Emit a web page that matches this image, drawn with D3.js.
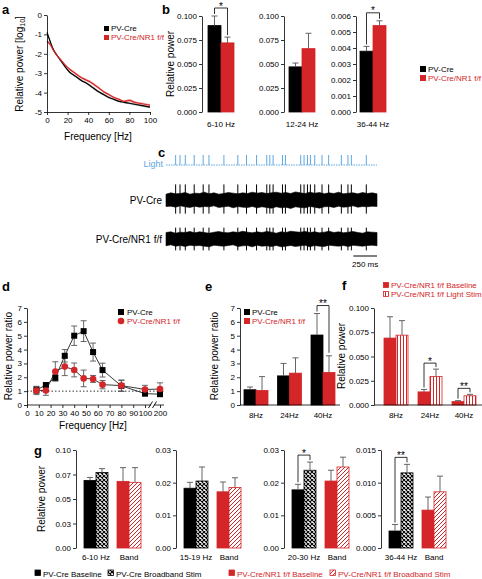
<!DOCTYPE html>
<html>
<head>
<meta charset="utf-8">
<script src="https://cdn.jsdelivr.net/npm/d3@7/dist/d3.min.js"></script>
<style>
html,body{margin:0;padding:0;background:#fff;}
svg{display:block;}
</style>
</head>
<body>
<svg id="fig" width="482" height="579"></svg>
<script>
// ================= DATA =================
// (a) power spectra
const specFreq   = [0,2,4,6,8,10,14,18,22,26,30,34,38,42,46,50,55,60,65,70,75,80,85,90,95,100];
const specPV     = [-0.9,-1.2,-1.5,-1.75,-1.95,-2.1,-2.4,-2.7,-2.95,-3.1,-3.25,-3.4,-3.5,-3.65,-3.8,-3.95,-4.1,-4.25,-4.35,-4.45,-4.5,-4.55,-4.6,-4.65,-4.7,-4.75];
const specNR1    = [-1.35,-1.45,-1.6,-1.8,-1.95,-2.1,-2.35,-2.6,-2.8,-2.95,-3.1,-3.25,-3.35,-3.45,-3.6,-3.75,-3.95,-4.1,-4.25,-4.35,-4.45,-4.4,-4.5,-4.55,-4.6,-4.65];
const specSemPV  = [0.12,0.1,0.08,0.06,0.05,0.05,0.05,0.05,0.05,0.05,0.06,0.06,0.06,0.06,0.06,0.06,0.06,0.06,0.05,0.05,0.05,0.05,0.05,0.05,0.05,0.05];
const specSemNR1 = [0.08,0.07,0.06,0.05,0.05,0.05,0.05,0.05,0.06,0.06,0.06,0.07,0.07,0.07,0.07,0.07,0.06,0.06,0.06,0.06,0.06,0.07,0.07,0.06,0.06,0.06];
const aXTicks = [0,20,40,60,80,100];
const aYTicks = [0,-1,-2,-3,-4,-5];
const genotypes = ["PV-Cre","PV-Cre/NR1 f/f"];

// (b) band power
const bBands  = ["6-10 Hz","12-24 Hz","36-44 Hz"];
const bPV     = [0.090, 0.047, 0.0038];
const bPVErr  = [0.010, 0.004, 0.0003];
const bNR1    = [0.072, 0.066, 0.0054];
const bNR1Err = [0.006, 0.016, 0.0003];
const bTicks  = [[0,0.025,0.05,0.075,0.1],[0,0.025,0.05,0.075,0.1],[0,0.001,0.002,0.003,0.004,0.005,0.006]];
const bSig    = ["*","","*"];

// (c) light pulses (ms) and trace envelopes
const traceDur = 2230;
const scaleBarMs = 250;
const lightPulses = [102,148,204,298,393,454,612,759,851,957,1065,1097,1132,1231,1262,1424,1459,1495,1526,1572,1649,1719,1853,1923,1959,2117];
const pvEnvTop = [0.9,1.1,0.95,1.0,1.15,0.9,1.05,1.0,1.2,0.95,1.1,0.9,1.0,1.15,1.05,0.95,1.1,1.0,1.2,1.05,1.15,1.0,1.1,1.2,1.05,1.15,1.0,1.25,1.1,1.0,1.2,1.05,1.15,0.95,1.1,1.0,1.2,0.95,1.05,1.1,0.95,1.15,1.0,1.1,0.95];
const pvEnvBot = [1.0,0.95,1.1,0.9,1.05,1.15,0.95,1.1,1.0,1.05,0.9,1.15,1.05,0.95,1.2,1.0,1.1,1.15,1.0,1.2,1.05,1.15,1.25,1.05,1.2,1.1,1.3,1.05,1.15,1.2,1.0,1.1,1.25,1.05,1.0,1.15,0.95,1.1,1.05,0.9,1.1,1.0,1.05,0.95,1.0];
const nrEnvTop = [1.0,1.1,0.9,1.05,1.0,1.15,0.95,1.1,1.0,0.9,1.05,1.15,1.0,0.95,1.1,1.0,1.2,1.05,0.95,1.1,1.0,1.15,1.05,0.9,1.1,1.0,1.2,1.1,1.05,1.15,1.0,1.1,0.95,1.05,1.2,1.0,1.1,0.95,1.05,1.15,1.0,0.9,1.1,1.05,1.0];
const nrEnvBot = [1.05,0.9,1.1,1.0,1.15,0.95,1.05,1.0,1.1,1.2,0.95,1.05,1.1,1.0,0.9,1.15,1.05,1.0,1.2,0.95,1.1,1.05,1.15,1.0,1.2,1.1,1.0,1.15,1.05,0.95,1.2,1.0,1.1,1.15,0.95,1.05,1.1,1.0,1.15,0.95,1.05,1.1,1.0,0.95,1.05];
const pvSpike = [2.4, -2.1];
const nrSpike = [1.75, -1.75];

// (d) power ratio vs stimulation frequency
const dFreq   = [8,16,24,32,40,48,56,64,80,100,200];
const dPV     = [1.08,1.44,1.97,3.55,5.0,5.33,3.82,2.52,1.38,0.82,0.78];
const dPVErr  = [0.25,0.15,0.2,0.45,0.7,0.75,0.65,0.5,0.4,0.15,0.1];
const dNR1    = [1.05,1.05,2.42,2.77,2.53,1.92,1.88,1.47,1.4,1.12,1.15];
const dNR1Err = [0.3,0.35,0.7,0.65,0.5,0.6,0.25,0.3,0.4,0.3,0.45];
const dXTicks = [0,10,20,30,40,50,60,70,80,90,100,200];
const dYTicks = [0,1,2,3,4,5,6,7];

// (e)
const eCats   = ["8Hz","24Hz","40Hz"];
const ePV     = [1.1, 2.1, 5.05];
const ePVErr  = [0.2, 0.9, 1.55];
const eNR1    = [1.05, 2.3, 2.35];
const eNR1Err = [1.0, 1.1, 1.2];
const eSig    = ["","","**"];
const eTicks  = [0,1,2,3,4,5,6,7];

// (f)
const fCats    = ["8Hz","24Hz","40Hz"];
const fConds   = ["PV-Cre/NR1 f/f Baseline","PV-Cre/NR1 f/f Light Stim"];
const fBase    = [0.069, 0.0135, 0.0035];
const fBaseErr = [0.022, 0.0025, 0.001];
const fStim    = [0.072, 0.0295, 0.0095];
const fStimErr = [0.015, 0.0075, 0.0015];
const fSig     = ["","*","**"];
const fTicks   = [0,0.025,0.05,0.075,0.1];

// (g)
const gBands     = ["6-10 Hz","15-19 Hz","20-30 Hz","36-44 Hz"];
const gGroupLbl  = "Band";
const gConds     = ["PV-Cre Baseline","PV-Cre Broadband Stim","PV-Cre/NR1 f/f Baseline","PV-Cre/NR1 f/f Broadband Stim"];
const gPVBase    = [0.069, 0.0183, 0.0178, 0.0026];
const gPVBaseErr = [0.003, 0.0018, 0.0017, 0.001];
const gPVStim    = [0.077, 0.0205, 0.0238, 0.0115];
const gPVStimErr = [0.004, 0.0043, 0.0025, 0.0013];
const gNRBase    = [0.068, 0.0172, 0.0205, 0.0058];
const gNRBaseErr = [0.014, 0.003, 0.0033, 0.002];
const gNRStim    = [0.067, 0.0185, 0.0248, 0.0086];
const gNRStimErr = [0.015, 0.003, 0.003, 0.0024];
const gTicks = [[0,0.025,0.05,0.075,0.1],[0,0.01,0.02,0.03],[0,0.01,0.02,0.03],[0,0.005,0.01,0.015]];
const gSig   = ["","","*","**"];

// ================= DRAWING =================
const FONT = '"Liberation Sans", Arial, Helvetica, sans-serif';
const RED = "#d42529", BLUE = "#5ea7e0", ERR = "#555";
const svg = d3.select("#fig").attr("font-family", FONT);

const defs = svg.append("defs");
function pattern(id, w, h, d, color, sw) {
  const p = defs.append("pattern").attr("id", id).attr("patternUnits","userSpaceOnUse").attr("width", w).attr("height", h);
  p.append("rect").attr("width", w).attr("height", h).attr("fill", "#fff");
  p.append("path").attr("d", d).attr("stroke", color).attr("stroke-width", sw).attr("fill","none");
}
pattern("crossHatch", 4, 4, "M0,0L4,4M4,0L0,4", "#000", 1.1);
pattern("redHatch", 4, 4, "M-1,1L1,-1M0,4L4,0M3,5L5,3", RED, 1);
pattern("redVert", 3, 3, "M1.5,0V3", RED, 1);

function styleAxis(ax) {
  ax.attr("font-family", FONT).attr("font-size", 8);
  ax.select(".domain").attr("stroke-width", 0.8);
  ax.selectAll(".tick line").attr("stroke-width", 0.8);
}
function leftAxis(g, y, x, ticks, fmt) {
  const ax = g.append("g").attr("transform", `translate(${x},0)`)
    .call(d3.axisLeft(y).tickValues(ticks).tickFormat(fmt).tickSize(3).tickSizeOuter(0).tickPadding(2));
  styleAxis(ax);
  return ax;
}
function bottomAxis(g, x, y0, ticks, fmt) {
  const ax = g.append("g").attr("transform", `translate(0,${y0})`)
    .call(d3.axisBottom(x).tickValues(ticks).tickFormat(fmt).tickSize(3).tickSizeOuter(0).tickPadding(2));
  styleAxis(ax);
  return ax;
}
function txt(g, x, y, s, o = {}) {
  const t = g.append("text").attr("x", x).attr("y", y).text(s)
    .attr("font-size", o.size || 8).attr("fill", o.fill || "#000")
    .attr("text-anchor", o.anchor || "start");
  if (o.bold) t.attr("font-weight", "bold");
  return t;
}
function vtitle(g, x, y, s) {
  return g.append("text").attr("transform", `translate(${x},${y}) rotate(-90)`)
    .attr("text-anchor", "middle").attr("dy", "0.35em").attr("font-size", 10).text(s);
}
function letter(x, y, s) { txt(svg, x, y, s, {size: 13, bold: true}); }
function barRect(g, x, w, y, v, fill, stroke) {
  g.append("rect").attr("x", x).attr("y", y(v)).attr("width", w).attr("height", y(0) - y(v))
    .attr("fill", fill).attr("stroke", stroke).attr("stroke-width", 0.8);
}
function errUp(g, cx, y, v, e) {
  g.append("path").attr("d", `M${cx},${y(v)}V${y(v + e)}M${cx - 3},${y(v + e)}H${cx + 3}`)
    .attr("stroke", ERR).attr("stroke-width", 0.9).attr("fill", "none");
}
function bracket(g, x1, x2, yLine, yL, yR, label) {
  g.append("path").attr("d", `M${x1},${yL}V${yLine}H${x2}V${yR}`)
    .attr("fill", "none").attr("stroke", "#000").attr("stroke-width", 0.8);
  txt(g, (x1 + x2) / 2, yLine + 1.5, label, {size: 10, anchor: "middle"});
}

// ---------- (a) ----------
{
  const g = svg.append("g");
  letter(2, 14, "a");
  const x = d3.scaleLinear().domain([0, 100]).range([47, 150]);
  const y = d3.scaleLinear().domain([-5, 0]).range([112, 15]);
  const series = [
    {v: specPV, s: specSemPV, line: "#000", band: "#a0a0a0"},
    {v: specNR1, s: specSemNR1, line: RED, band: "#f3a7a1"}
  ];
  series.forEach(se => {
    g.append("path").datum(specFreq.map((f, i) => [f, se.v[i], se.s[i]]))
      .attr("d", d3.area().x(d => x(d[0])).y0(d => y(d[1] - d[2])).y1(d => y(d[1] + d[2])).curve(d3.curveMonotoneX))
      .attr("fill", se.band).attr("opacity", 0.85);
  });
  series.forEach(se => {
    g.append("path").datum(specFreq.map((f, i) => [f, se.v[i]]))
      .attr("d", d3.line().x(d => x(d[0])).y(d => y(d[1])).curve(d3.curveMonotoneX))
      .attr("fill", "none").attr("stroke", se.line).attr("stroke-width", 1.2);
  });
  leftAxis(g, y, 47, aYTicks, d => String(d));
  bottomAxis(g, x, 112, aXTicks, d => String(d));
  const t = g.append("text").attr("transform", `translate(19,64) rotate(-90)`)
    .attr("text-anchor", "middle").attr("dy", "0.35em").attr("font-size", 10);
  t.append("tspan").text("Relative power [log");
  t.append("tspan").attr("font-size", 7).attr("dy", 2).text("10");
  t.append("tspan").attr("dy", -2).text("]");
  txt(g, 98, 140, "Frequency [Hz]", {size: 10, anchor: "middle"});
  genotypes.forEach((gt, k) => {
    g.append("rect").attr("x", 104).attr("y", 26 + k * 9).attr("width", 5).attr("height", 5).attr("fill", k ? RED : "#000");
    txt(g, 111, 31 + k * 9, gt, {fill: k ? RED : "#000"});
  });
}

// ---------- (b) ----------
{
  const g = svg.append("g");
  letter(162, 14, "b");
  const axisX = [202, 284, 356];
  const center = [221, 302, 373];
  vtitle(g, 170, 64, "Relative power");
  bBands.forEach((band, i) => {
    const y = d3.scaleLinear().domain([0, bTicks[i][bTicks[i].length - 1]]).range([112, 16]);
    const xb = d3.scaleBand().domain(genotypes).range([center[i] - 13, center[i] + 13]);
    const vals = [bPV[i], bNR1[i]], errs = [bPVErr[i], bNR1Err[i]];
    genotypes.forEach((gt, k) => {
      barRect(g, xb(gt), xb.bandwidth(), y, vals[k], k ? RED : "#000", k ? RED : "#000");
      errUp(g, xb(gt) + xb.bandwidth() / 2, y, vals[k], errs[k]);
    });
    leftAxis(g, y, axisX[i], bTicks[i], d3.format(".3f"));
    txt(g, center[i], 127, band, {anchor: "middle"});
    if (bSig[i]) {
      const c0 = xb(genotypes[0]) + xb.bandwidth() / 2, c1 = xb(genotypes[1]) + xb.bandwidth() / 2;
      const top = Math.min(y(vals[0] + errs[0]), y(vals[1] + errs[1]));
      bracket(g, c0, c1, top - 8, y(vals[0] + errs[0]) - 2, y(vals[1] + errs[1]) - 2, bSig[i]);
    }
  });
  genotypes.forEach((gt, k) => {
    g.append("rect").attr("x", 420).attr("y", 66 + k * 9).attr("width", 6).attr("height", 6).attr("fill", k ? RED : "#000");
    txt(g, 428, 72 + k * 9, gt, {fill: k ? RED : "#000"});
  });
}

// ---------- (c) ----------
{
  const g = svg.append("g");
  letter(158, 157, "c");
  const x = d3.scaleLinear().domain([0, traceDur]).range([166, 377]);
  // Light
  const ly = d3.scaleLinear().domain([0, 1]).range([165, 155]);
  g.append("line").attr("x1", x(0)).attr("x2", x(traceDur)).attr("y1", ly(0)).attr("y2", ly(0))
    .attr("stroke", BLUE).attr("stroke-width", 1).attr("stroke-dasharray", "1.5,1");
  g.selectAll(null).data(lightPulses).join("line")
    .attr("x1", d => x(d)).attr("x2", d => x(d)).attr("y1", ly(0)).attr("y2", ly(1))
    .attr("stroke", BLUE).attr("stroke-width", 1);
  txt(g, 163, 167, "Light", {fill: BLUE, anchor: "end", size: 9});
  // traces
  const traces = [
    {name: genotypes[0], top: pvEnvTop, bot: pvEnvBot, spike: pvSpike, cy: 200, half: 6.5},
    {name: genotypes[1], top: nrEnvTop, bot: nrEnvBot, spike: nrSpike, cy: 239, half: 6.5}
  ];
  traces.forEach(tr => {
    const y = d3.scaleLinear().domain([-1, 1]).range([tr.cy + tr.half, tr.cy - tr.half]);
    const topPts = tr.top.map((v, i) => [x(i * traceDur / (tr.top.length - 1)), y(v)]);
    const botPts = tr.bot.map((v, i) => [x(i * traceDur / (tr.bot.length - 1)), y(-v)]).reverse();
    g.append("path").attr("d", d3.line()(topPts.concat(botPts)) + "Z")
      .attr("fill", "#000").attr("stroke", "#000").attr("stroke-width", 0.6);
    g.selectAll(null).data(lightPulses).join("line")
      .attr("x1", d => x(d)).attr("x2", d => x(d))
      .attr("y1", y(tr.spike[0])).attr("y2", y(tr.spike[1]))
      .attr("stroke", "#000").attr("stroke-width", 1);
    txt(g, 162, tr.cy + 4, tr.name, {anchor: "end", size: 10});
  });
  g.append("line").attr("x1", x(traceDur - scaleBarMs)).attr("x2", x(traceDur)).attr("y1", 256).attr("y2", 256)
    .attr("stroke", "#000").attr("stroke-width", 1);
  txt(g, (x(traceDur - scaleBarMs) + x(traceDur)) / 2, 267, scaleBarMs + " ms", {anchor: "middle"});
}

// ---------- (d) ----------
{
  const g = svg.append("g");
  letter(2, 291, "d");
  const x = d3.scaleLinear().domain([0, 100, 200]).range([27, 145, 160]);
  const y = d3.scaleLinear().domain([0, 7]).range([405, 308]);
  g.append("line").attr("x1", x(0)).attr("x2", 164).attr("y1", y(1)).attr("y2", y(1))
    .attr("stroke", "#000").attr("stroke-width", 0.8).attr("stroke-dasharray", "1.5,2");
  const sets = [
    {v: dPV, e: dPVErr, color: "#000", shape: "sq"},
    {v: dNR1, e: dNR1Err, color: RED, shape: "ci"}
  ];
  sets.forEach(s => {
    dFreq.forEach((f, i) => {
      const cx = x(f), y1 = y(s.v[i] + s.e[i]), y0 = y(s.v[i] - s.e[i]);
      g.append("path").attr("d", `M${cx},${y0}V${y1}M${cx - 3},${y1}H${cx + 3}M${cx - 3},${y0}H${cx + 3}`)
        .attr("stroke", ERR).attr("stroke-width", 0.9).attr("fill", "none");
    });
  });
  sets.forEach(s => {
    g.append("path").datum(dFreq.map((f, i) => [f, s.v[i]]))
      .attr("d", d3.line().x(d => x(d[0])).y(d => y(d[1])))
      .attr("fill", "none").attr("stroke", "#222").attr("stroke-width", 0.9);
  });
  sets.forEach(s => {
    dFreq.forEach((f, i) => {
      if (s.shape === "sq") g.append("rect").attr("x", x(f) - 3).attr("y", y(s.v[i]) - 3).attr("width", 6).attr("height", 6).attr("fill", s.color);
      else g.append("circle").attr("cx", x(f)).attr("cy", y(s.v[i])).attr("r", 3.3).attr("fill", s.color);
    });
  });
  leftAxis(g, y, 27, dYTicks, d => String(d));
  const bx = bottomAxis(g, x, 405, dXTicks, d => String(d));
  bx.select(".domain").attr("d", `M${x(0)},0H164`);
  // axis break
  g.append("rect").attr("x", 151).attr("y", 402).attr("width", 3).attr("height", 6).attr("fill", "#fff");
  g.append("path").attr("d", "M148.5,408L152.5,401.5M152.5,408L156.5,401.5").attr("stroke", "#000").attr("stroke-width", 0.9);
  vtitle(g, 8, 356, "Relative power ratio");
  txt(g, 93, 429, "Frequency [Hz]", {size: 10, anchor: "middle"});
  g.append("rect").attr("x", 118).attr("y", 309).attr("width", 6).attr("height", 6).attr("fill", "#000");
  txt(g, 127, 315, genotypes[0]);
  g.append("circle").attr("cx", 121).attr("cy", 321).attr("r", 3.3).attr("fill", RED);
  txt(g, 127, 324, genotypes[1], {fill: RED});
}

// ---------- (e) ----------
{
  const g = svg.append("g");
  letter(205, 291, "e");
  const y = d3.scaleLinear().domain([0, 7]).range([405, 308]);
  const xc = d3.scalePoint().domain(eCats).range([256, 323]);
  const xi = d3.scaleBand().domain(genotypes).range([-12, 12]);
  eCats.forEach((c, i) => {
    const vals = [ePV[i], eNR1[i]], errs = [ePVErr[i], eNR1Err[i]];
    genotypes.forEach((gt, k) => {
      const bx = xc(c) + xi(gt);
      barRect(g, bx, xi.bandwidth(), y, vals[k], k ? RED : "#000", k ? RED : "#000");
      errUp(g, bx + xi.bandwidth() / 2, y, vals[k], errs[k]);
    });
    txt(g, xc(c), 418, c, {anchor: "middle"});
    if (eSig[i]) {
      const c0 = xc(c) + xi(genotypes[0]) + xi.bandwidth() / 2, c1 = xc(c) + xi(genotypes[1]) + xi.bandwidth() / 2;
      const t0 = y(vals[0] + errs[0]), t1 = y(vals[1] + errs[1]);
      bracket(g, c0, c1, Math.min(t0, t1) - 8, t0 - 2, t1 - 3, eSig[i]);
    }
  });
  leftAxis(g, y, 240, eTicks, d => String(d));
  g.append("line").attr("x1", 240).attr("x2", 340).attr("y1", 405).attr("y2", 405).attr("stroke", "#000").attr("stroke-width", 0.8);
  vtitle(g, 214, 356, "Relative power ratio");
  genotypes.forEach((gt, k) => {
    g.append("rect").attr("x", 244).attr("y", 309 + k * 9).attr("width", 6).attr("height", 6).attr("fill", k ? RED : "#000");
    txt(g, 252, 315 + k * 9, gt, {fill: k ? RED : "#000"});
  });
}

// ---------- (f) ----------
{
  const g = svg.append("g");
  letter(342, 290, "f");
  const y = d3.scaleLinear().domain([0, 0.1]).range([405, 308]);
  const xc = d3.scalePoint().domain(fCats).range([396, 464]);
  const xi = d3.scaleBand().domain(fConds).range([-12, 12]);
  fCats.forEach((c, i) => {
    const vals = [fBase[i], fStim[i]], errs = [fBaseErr[i], fStimErr[i]];
    fConds.forEach((cd, k) => {
      const bx = xc(c) + xi(cd);
      barRect(g, bx, xi.bandwidth(), y, vals[k], k ? "url(#redVert)" : RED, RED);
      errUp(g, bx + xi.bandwidth() / 2, y, vals[k], errs[k]);
    });
    txt(g, xc(c), 418, c, {anchor: "middle"});
    if (fSig[i]) {
      const c0 = xc(c) + xi(fConds[0]) + xi.bandwidth() / 2, c1 = xc(c) + xi(fConds[1]) + xi.bandwidth() / 2;
      const t0 = y(vals[0] + errs[0]), t1 = y(vals[1] + errs[1]);
      bracket(g, c0, c1, Math.min(t0, t1) - 6, t0 - 2, t1 - 2, fSig[i]);
    }
  });
  leftAxis(g, y, 374, fTicks, d3.format(".3f"));
  g.append("line").attr("x1", 374).attr("x2", 482).attr("y1", 405).attr("y2", 405).attr("stroke", "#000").attr("stroke-width", 0.8);
  vtitle(g, 341, 356, "Relative power");
  fConds.forEach((cd, k) => {
    g.append("rect").attr("x", 383.5).attr("y", 282.5 + k * 9).attr("width", 5).attr("height", 5)
      .attr("fill", k ? "url(#redVert)" : RED).attr("stroke", RED).attr("stroke-width", 0.8);
    txt(g, 391, 288 + k * 9, cd, {fill: RED});
  });
}

// ---------- (g) ----------
{
  const g = svg.append("g");
  letter(34, 455, "g");
  const axisX = [76, 176, 284, 381];
  vtitle(g, 41, 499, "Relative power");
  const fills = ["#000", "url(#crossHatch)", RED, "url(#redHatch)"];
  const strokes = ["#000", "#000", RED, RED];
  gBands.forEach((band, i) => {
    const tk = gTicks[i];
    const y = d3.scaleLinear().domain([0, tk[tk.length - 1]]).range([548, 450]);
    const xc = d3.scalePoint().domain([band, gGroupLbl]).range([axisX[i] + 20, axisX[i] + 53]);
    const xi = d3.scaleBand().domain([0, 1]).range([-12, 12]);
    const vals = [gPVBase[i], gPVStim[i], gNRBase[i], gNRStim[i]];
    const errs = [gPVBaseErr[i], gPVStimErr[i], gNRBaseErr[i], gNRStimErr[i]];
    gConds.forEach((cd, k) => {
      const grp = k < 2 ? band : gGroupLbl;
      const bx = xc(grp) + xi(k % 2);
      barRect(g, bx, xi.bandwidth(), y, vals[k], fills[k], strokes[k]);
      errUp(g, bx + xi.bandwidth() / 2, y, vals[k], errs[k]);
    });
    leftAxis(g, y, axisX[i], tk, d3.format("." + d3.precisionFixed(tk[1]) + "f"));
    txt(g, xc(band), 560, band, {anchor: "middle"});
    txt(g, xc(gGroupLbl), 560, gGroupLbl, {anchor: "middle"});
    if (gSig[i]) {
      const c0 = xc(band) + xi(0) + xi.bandwidth() / 2, c1 = xc(band) + xi(1) + xi.bandwidth() / 2;
      const t0 = y(vals[0] + errs[0]), t1 = y(vals[1] + errs[1]);
      bracket(g, c0, c1, Math.min(t0, t1) - 7, t0 - 2, t1 - 2, gSig[i]);
    }
  });
  const lx = [35, 108, 229, 330];
  gConds.forEach((cd, k) => {
    g.append("rect").attr("x", lx[k]).attr("y", 570).attr("width", 5.5).attr("height", 5.5)
      .attr("fill", fills[k]).attr("stroke", strokes[k]).attr("stroke-width", 0.8);
    txt(g, lx[k] + 8, 576.5, cd, {fill: k < 2 ? "#000" : RED});
  });
}
</script>
</body>
</html>
